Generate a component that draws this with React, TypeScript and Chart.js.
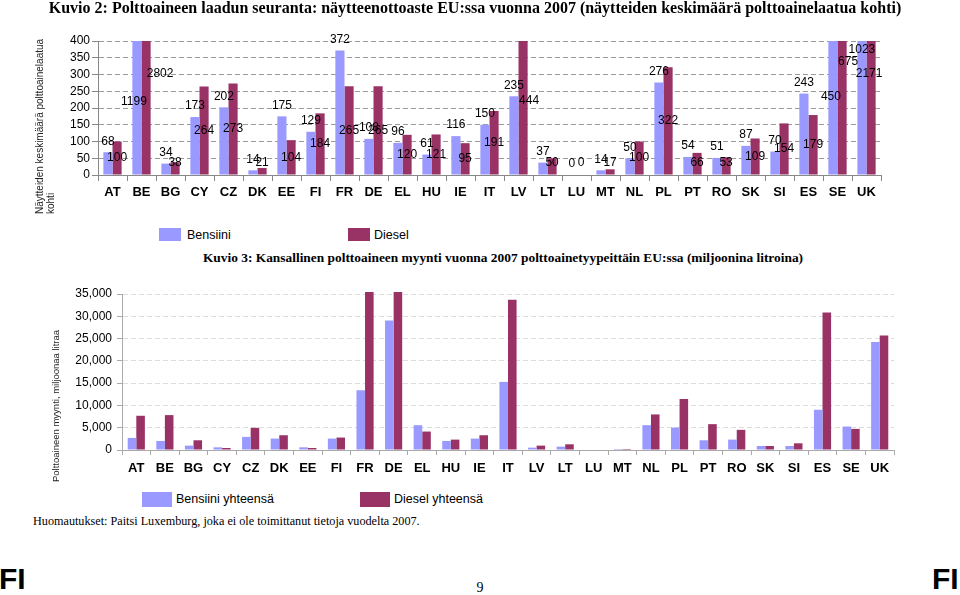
import React, { useEffect, useRef } from 'react';
import { Chart, registerables } from 'chart.js';

Chart.register(...registerables);

// ---------- data ----------
const countries = ['AT', 'BE', 'BG', 'CY', 'CZ', 'DK', 'EE', 'FI', 'FR', 'DE', 'EL', 'HU', 'IE', 'IT', 'LV', 'LT', 'LU', 'MT', 'NL', 'PL', 'PT', 'RO', 'SK', 'SI', 'ES', 'SE', 'UK'];

// Kuvio 2: samples per fuel grade
const bensiiniSamples = [68, 1199, 34, 173, 202, 14, 175, 129, 372, 108, 96, 61, 116, 150, 235, 37, 0, 14, 50, 276, 54, 51, 87, 70, 243, 450, 1023];
const dieselSamples = [100, 2802, 38, 264, 273, 21, 104, 184, 265, 265, 120, 121, 95, 191, 444, 50, 0, 17, 100, 322, 66, 53, 109, 154, 179, 675, 2171];
const sampleAxisMax = 400;
const sampleAxisStep = 50;

// Kuvio 3: sales, million litres (LU not reported)
const bensiiniSales = [2710, 2030, 980, 600, 2940, 2560, 600, 2560, 13400, 29050, 5570, 2030, 2560, 15280, 530, 750, null, 230, 5570, 5040, 2180, 2330, 900, 900, 9030, 5270, 24240];
const dieselSales = [7680, 7830, 2180, 450, 4970, 3310, 450, 2790, 40000, 36000, 4140, 2330, 3310, 33720, 980, 1280, null, 230, 7980, 11440, 5800, 4520, 900, 1500, 30860, 4740, 25670];
const salesAxisMax = 35000;
const salesAxisStep = 5000;

// labels of bars that run past the axis top: where the label sits (axis units)
const overflowLabels = [
  { country: 'BE', series: 0, at: 219, dx: -3 },
  { country: 'BE', series: 1, at: 302, dx: 14 },
  { country: 'LV', series: 1, at: 222, dx: 6 },
  { country: 'SE', series: 0, at: 234, dx: -2 },
  { country: 'SE', series: 1, at: 338, dx: 6 },
  { country: 'UK', series: 0, at: 373, dx: 0 },
  { country: 'UK', series: 1, at: 302, dx: -2 },
];

// ---------- styles ----------
const BENS = '#9999FF';
const DIES = '#993366';
const SANS = '"Liberation Sans", Arial, sans-serif';
const SERIF = '"Liberation Serif", "Times New Roman", serif';

const valueLabels = {
  id: 'valueLabels',
  afterDatasetsDraw(chart: any) {
    const ctx = chart.ctx;
    const yScale = chart.scales.y;
    ctx.save();
    ctx.font = `12px ${SANS}`;
    ctx.fillStyle = '#000';
    ctx.textAlign = 'center';
    ctx.textBaseline = 'middle';
    chart.data.datasets.forEach((ds: any, di: number) => {
      const meta = chart.getDatasetMeta(di);
      meta.data.forEach((bar: any, i: number) => {
        const v = ds.data[i];
        if (v == null) return;
        const { x, y, base } = bar.getProps(['x', 'y', 'base'], true);
        const ov = overflowLabels.find((o) => o.series === di && o.country === countries[i]);
        let lx = x;
        let ly: number;
        if (ov) {
          lx = x + ov.dx;
          ly = yScale.getPixelForValue(ov.at);
        } else if (di === 0) {
          ly = y - 11;
        } else {
          ly = Math.min((y + base) / 2, base - 12);
        }
        ctx.fillText(String(v), lx, ly);
      });
    });
    ctx.restore();
  },
};

function T(props: { x: number; y: number; center?: boolean; style?: React.CSSProperties; children: React.ReactNode }) {
  return (
    <div
      style={{
        position: 'absolute',
        left: props.x,
        top: props.y,
        transform: `translate(${props.center ? '-50%' : '0'}, -50%)`,
        whiteSpace: 'nowrap',
        lineHeight: 1,
        color: '#000',
        ...props.style,
      }}
    >
      {props.children}
    </div>
  );
}

function Key(props: { x: number; y: number; w: number; h: number; color: string }) {
  return <div style={{ position: 'absolute', left: props.x, top: props.y, width: props.w, height: props.h, background: props.color }} />;
}

export default function App() {
  const c1 = useRef<HTMLCanvasElement>(null);
  const c2 = useRef<HTMLCanvasElement>(null);

  useEffect(() => {
    const ch1 = new Chart(c1.current as HTMLCanvasElement, {
      type: 'bar',
      data: {
        labels: countries,
        datasets: [
          { label: 'Bensiini', data: bensiiniSamples, backgroundColor: BENS, categoryPercentage: 0.63, barPercentage: 1 },
          { label: 'Diesel', data: dieselSamples, backgroundColor: DIES, categoryPercentage: 0.63, barPercentage: 1 },
        ],
      },
      options: {
        responsive: false,
        animation: false,
        devicePixelRatio: 1,
        layout: { padding: { left: 0, top: 41, right: 79, bottom: 0 } },
        plugins: { legend: { display: false }, tooltip: { enabled: false } },
        scales: {
          x: {
            grid: { display: true, drawOnChartArea: false, drawTicks: true, tickLength: 6, color: '#888', offset: true },
            border: { display: true, color: '#888' },
            ticks: { font: { family: SANS, size: 13, weight: 'bold' }, color: '#000', padding: 4, maxRotation: 0, autoSkip: false },
            afterFit: (s: any) => { s.height = 40; },
          },
          y: {
            min: 0,
            max: sampleAxisMax,
            ticks: { stepSize: sampleAxisStep, autoSkip: false, font: { family: SANS, size: 12 }, color: '#000', padding: 2 },
            grid: { color: '#9a9a9a', tickColor: '#888', tickLength: 6, tickBorderDash: [] },
            border: { display: true, color: '#888', dash: [5, 3] },
            afterFit: (s: any) => { s.width = 98; },
          },
        },
      } as any,
      plugins: [valueLabels],
    });

    const ch2 = new Chart(c2.current as HTMLCanvasElement, {
      type: 'bar',
      data: {
        labels: countries,
        datasets: [
          { label: 'Bensiini yhteensä', data: bensiiniSales, backgroundColor: BENS, categoryPercentage: 0.6, barPercentage: 1, clip: { left: 0, top: 2, right: 0, bottom: 0 } },
          { label: 'Diesel yhteensä', data: dieselSales, backgroundColor: DIES, categoryPercentage: 0.6, barPercentage: 1, clip: { left: 0, top: 2, right: 0, bottom: 0 } },
        ],
      } as any,
      options: {
        responsive: false,
        animation: false,
        devicePixelRatio: 1,
        layout: { padding: { left: 0, top: 24, right: 66, bottom: 0 } },
        plugins: { legend: { display: false }, tooltip: { enabled: false } },
        scales: {
          x: {
            grid: { display: true, drawOnChartArea: false, drawTicks: true, tickLength: 5, color: '#aaa', offset: true },
            border: { display: true, color: '#aaa' },
            ticks: { font: { family: SANS, size: 13, weight: 'bold' }, color: '#000', padding: 6, maxRotation: 0, autoSkip: false },
            afterFit: (s: any) => { s.height = 35; },
          },
          y: {
            min: 0,
            max: salesAxisMax,
            ticks: {
              stepSize: salesAxisStep,
              autoSkip: false,
              font: { family: SANS, size: 12 },
              color: '#000',
              padding: 5,
              callback: (v: any) => Number(v).toLocaleString('en-US'),
            },
            grid: { color: '#dcdcdc', tickColor: '#aaa', tickLength: 5, tickBorderDash: [] },
            border: { display: true, color: '#aaa', dash: [5, 3] },
            afterFit: (s: any) => { s.width = 122; },
          },
        },
      } as any,
    });

    return () => {
      ch1.destroy();
      ch2.destroy();
    };
  }, []);

  return (
    <div style={{ position: 'absolute', left: 0, top: 0, width: 960, height: 595, background: '#fff', overflow: 'hidden', fontFamily: SANS }}>
      <canvas ref={c1} width={960} height={215} style={{ position: 'absolute', left: 0, top: 0, display: 'block' }} />
      <canvas ref={c2} width={960} height={215} style={{ position: 'absolute', left: 0, top: 270, display: 'block' }} />

      <T x={475} y={8} center style={{ fontFamily: SERIF, fontWeight: 'bold', fontSize: 16 }}>
        Kuvio 2: Polttoaineen laadun seuranta: näytteenottoaste EU:ssa vuonna 2007 (näytteiden keskimäärä polttoainelaatua kohti)
      </T>

      <div style={{ position: 'absolute', left: 34, top: 214, transform: 'rotate(-90deg)', transformOrigin: 'left top', whiteSpace: 'nowrap', fontFamily: SANS, fontSize: 10, lineHeight: '11px', color: '#222' }}>
        Näytteiden keskimäärä polttoainelaatua
        <br />
        kohti
      </div>

      <Key x={159} y={228} w={22} h={13} color={BENS} />
      <T x={187} y={235} style={{ fontFamily: SANS, fontSize: 12.5 }}>Bensiini</T>
      <Key x={348} y={228} w={22} h={13} color={DIES} />
      <T x={374} y={235} style={{ fontFamily: SANS, fontSize: 12.5 }}>Diesel</T>

      <T x={503} y={258} center style={{ fontFamily: SERIF, fontWeight: 'bold', fontSize: 13.4 }}>
        Kuvio 3: Kansallinen polttoaineen myynti vuonna 2007 polttoainetyypeittäin EU:ssa (miljoonina litroina)
      </T>

      <div style={{ position: 'absolute', left: 50, top: 482, transform: 'rotate(-90deg)', transformOrigin: 'left top', whiteSpace: 'nowrap', fontFamily: SANS, fontSize: 9.5, lineHeight: '11px', color: '#222' }}>
        Polttoaineen myynti, miljoonaa litraa
      </div>

      <Key x={142} y={492} w={30} h={15} color={BENS} />
      <T x={176} y={499} style={{ fontFamily: SANS, fontSize: 12.5 }}>Bensiini yhteensä</T>
      <Key x={360} y={492} w={30} h={15} color={DIES} />
      <T x={394} y={499} style={{ fontFamily: SANS, fontSize: 12.5 }}>Diesel yhteensä</T>

      <T x={33} y={521} style={{ fontFamily: SERIF, fontSize: 12.2 }}>
        Huomautukset: Paitsi Luxemburg, joka ei ole toimittanut tietoja vuodelta 2007.
      </T>

      <T x={-1} y={579} style={{ fontFamily: SANS, fontWeight: 'bold', fontSize: 30 }}>FI</T>
      <T x={480} y={588} center style={{ fontFamily: SERIF, fontSize: 14 }}>9</T>
      <T x={932} y={579} style={{ fontFamily: SANS, fontWeight: 'bold', fontSize: 30 }}>FI</T>
    </div>
  );
}
